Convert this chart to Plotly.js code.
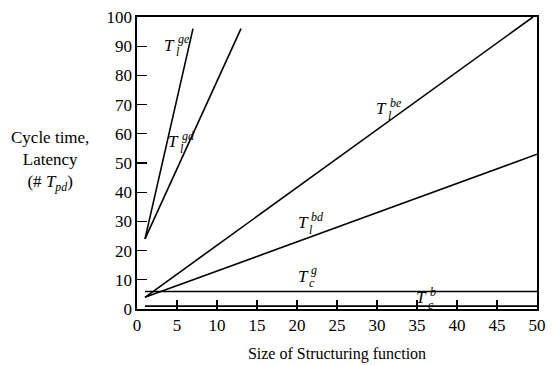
<!DOCTYPE html>
<html>
<head>
<meta charset="utf-8">
<script src="https://cdn.plot.ly/plotly-3.0.1.min.js"></script>
<style>html,body{margin:0;padding:0;background:#fff;}#chart{width:552px;height:365px;}</style>
</head>
<body>
<div id="chart"></div>
<script>
// Size of structuring function (x) and cycle time / latency (y) endpoints of each line
const geX = [1, 7];    const geY = [24, 96];
const gdX = [1, 13];   const gdY = [24, 96];
const beX = [1, 49.5]; const beY = [4, 100];
const bdX = [1, 50];   const bdY = [4, 53];
const cgX = [1, 50];   const cgY = [6, 6];
const cbX = [1, 50];   const cbY = [1, 1];

// Curve labels: superscript, subscript, anchor position (data units)
const labelSup = ["ge", "gd", "be", "bd", "g", "b"];
const labelSub = ["l", "l", "l", "l", "c", "c"];
const labelX = [4.1, 4.6, 30.6, 20.75, 20.75, 35.6];
const labelY = [90.4, 57.2, 68.5, 29.5, 11.3, 3.8];

const xTicks = [0, 5, 10, 15, 20, 25, 30, 35, 40, 45, 50];
const yTicks = [0, 10, 20, 30, 40, 50, 60, 70, 80, 90, 100];

const FONT = "Liberation Serif";
const line = {color: "#000", width: 1.6};
const series = [[geX, geY], [gdX, gdY], [beX, beY], [bdX, bdY], [cgX, cgY], [cbX, cbY]];
const data = series.map(s => ({x: s[0], y: s[1], mode: "lines", line: line, hoverinfo: "skip", showlegend: false}));

const annotations = [];
for (let i = 0; i < labelSup.length; i++) {
  annotations.push({x: labelX[i], y: labelY[i], xref: "x", yref: "y", text: "<i>T</i>", showarrow: false,
    font: {family: FONT, size: 17, color: "#000"}, xanchor: "center", yanchor: "middle"});
  annotations.push({x: labelX[i], y: labelY[i], xref: "x", yref: "y", text: "<i>" + labelSup[i] + "</i>", showarrow: false,
    font: {family: FONT, size: 12, color: "#000"}, xanchor: "left", yanchor: "middle", xshift: 6, yshift: 6});
  annotations.push({x: labelX[i], y: labelY[i], xref: "x", yref: "y", text: "<i>" + labelSub[i] + "</i>", showarrow: false,
    font: {family: FONT, size: 12, color: "#000"}, xanchor: "left", yanchor: "middle", xshift: 4, yshift: -7});
}
annotations.push({x: -0.2175, y: 0.507, xref: "paper", yref: "paper", showarrow: false, align: "center",
  text: "Cycle time,<br>Latency<br>(# <i>T<sub>pd</sub></i>)", font: {family: FONT, size: 17, color: "#000"},
  xanchor: "center", yanchor: "middle"});

const layout = {
  width: 552, height: 365,
  margin: {l: 137, r: 15, t: 17, b: 56},
  paper_bgcolor: "#fff", plot_bgcolor: "#fff",
  font: {family: FONT, size: 17, color: "#000"},
  xaxis: {range: [0, 50], tickvals: xTicks, ticktext: xTicks.map(String), ticks: "inside", ticklen: 9, tickwidth: 1.3,
    tickcolor: "#000", showline: true, linecolor: "#000", linewidth: 1.6, mirror: true, showgrid: false, zeroline: false,
    tickfont: {family: FONT, size: 17}, fixedrange: true,
    title: {text: "Size of Structuring function", font: {family: FONT, size: 16}, standoff: 14}},
  yaxis: {range: [0, 100], tickvals: yTicks, ticktext: yTicks.map(String), ticks: "inside", ticklen: 10, tickwidth: 1.3,
    tickcolor: "#000", showline: true, linecolor: "#000", linewidth: 1.6, mirror: true, showgrid: false, zeroline: false,
    tickfont: {family: FONT, size: 17}, fixedrange: true},
  annotations: annotations
};
Plotly.newPlot("chart", data, layout, {staticPlot: true, displayModeBar: false});
</script>
</body>
</html>
